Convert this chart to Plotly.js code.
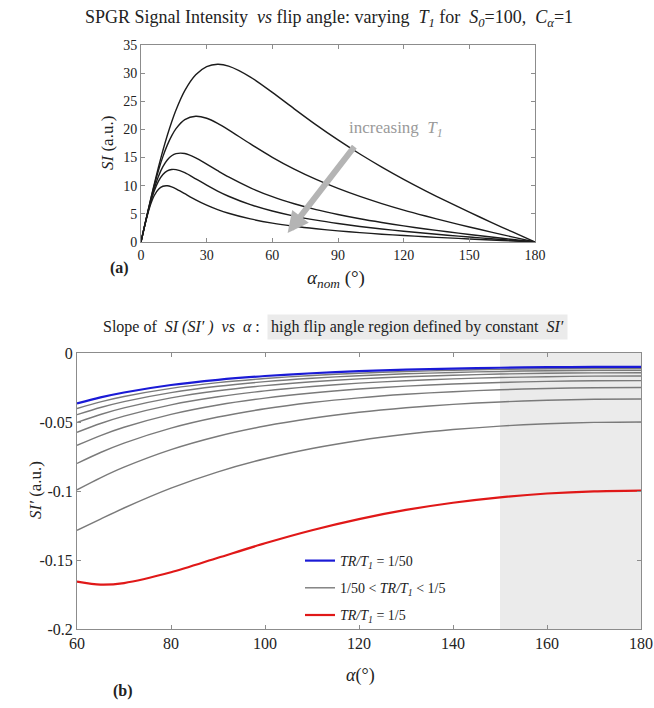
<!DOCTYPE html>
<html>
<head>
<meta charset="utf-8">
<script src="https://cdn.plot.ly/plotly-3.0.1.min.js"></script>
<style>html,body{margin:0;padding:0;background:#fff;}#chart{width:654px;height:708px;}</style>
</head>
<body>
<div id="chart"></div>
<script>
// ---- Panel (a): SPGR signal intensity vs nominal flip angle ----
var angleTop = [0,2,4,6,8,10,12,14,16,20,25,30,35,40,50,60,70,80,90,100,110,120,130,140,150,160,170,180];
var si_TR5  = [0,3.48,6.90,10.20,13.33,16.25,18.92,21.33,23.46,26.88,29.70,31.15,31.57,31.25,29.31,26.58,23.66,20.81,18.13,15.63,13.31,11.14,9.10,7.16,5.30,3.50,1.74,0];
var si_TR10 = [0,3.47,6.82,9.94,12.74,15.17,17.21,18.86,20.14,21.74,22.35,21.99,21.09,19.93,17.42,15.05,12.95,11.12,9.52,8.10,6.83,5.67,4.61,3.61,2.67,1.76,0.87,0];
var si_TR20 = [0,3.45,6.66,9.44,11.70,13.40,14.58,15.32,15.70,15.72,14.95,13.84,12.67,11.55,9.62,8.05,6.79,5.75,4.88,4.12,3.46,2.86,2.32,1.81,1.34,0.88,0.44,0];
var si_TR30 = [0,3.43,6.51,9.00,10.81,11.99,12.64,12.89,12.86,12.31,11.23,10.10,9.05,8.13,6.64,5.50,4.60,3.88,3.28,2.76,2.31,1.91,1.55,1.21,0.89,0.59,0.29,0];
var si_TR50 = [0,3.39,6.22,8.22,9.39,9.91,9.99,9.79,9.45,8.58,7.50,6.55,5.76,5.11,4.10,3.36,2.80,2.35,1.98,1.67,1.39,1.15,0.93,0.73,0.54,0.35,0.18,0];
var topTickVals = [0,30,60,90,120,150,180];
var topYTicks = [0,5,10,15,20,25,30,35];

// ---- Panel (b): slope SI' vs flip angle ----
var angleBot = [60,65,70,80,90,100,110,120,130,140,150,160,170,180];
var d_TR50 = [-0.03657,-0.03218,-0.02860,-0.02319,-0.01941,-0.01668,-0.01469,-0.01320,-0.01210,-0.01128,-0.01069,-0.01030,-0.01007,-0.01000];
var d_TR45 = [-0.04024,-0.03546,-0.03156,-0.02565,-0.02149,-0.01850,-0.01629,-0.01465,-0.01343,-0.01253,-0.01188,-0.01144,-0.01119,-0.01111];
var d_TR40 = [-0.04471,-0.03949,-0.03521,-0.02869,-0.02408,-0.02075,-0.01829,-0.01646,-0.01509,-0.01409,-0.01336,-0.01287,-0.01259,-0.01250];
var d_TR35 = [-0.05029,-0.04455,-0.03980,-0.03254,-0.02737,-0.02362,-0.02085,-0.01878,-0.01723,-0.01609,-0.01526,-0.01471,-0.01439,-0.01429];
var d_TR30 = [-0.05744,-0.05108,-0.04577,-0.03755,-0.03171,-0.02742,-0.02424,-0.02185,-0.02007,-0.01875,-0.01780,-0.01716,-0.01679,-0.01667];
var d_TR25 = [-0.06692,-0.05982,-0.05383,-0.04446,-0.03767,-0.03267,-0.02894,-0.02614,-0.02403,-0.02247,-0.02134,-0.02058,-0.02014,-0.02000];
var d_TR20 = [-0.08003,-0.07210,-0.06528,-0.05442,-0.04639,-0.04041,-0.03591,-0.03251,-0.02994,-0.02803,-0.02665,-0.02571,-0.02517,-0.02500];
var d_TR15 = [-0.09915,-0.09048,-0.08277,-0.07004,-0.06033,-0.05294,-0.04729,-0.04297,-0.03970,-0.03724,-0.03546,-0.03425,-0.03355,-0.03332];
var d_TR10 = [-0.12849,-0.12031,-0.11232,-0.09794,-0.08611,-0.07665,-0.06920,-0.06337,-0.05888,-0.05547,-0.05297,-0.05127,-0.05028,-0.04996];
var d_TR5  = [-0.16562,-0.16788,-0.16670,-0.15891,-0.14841,-0.13789,-0.12842,-0.12035,-0.11373,-0.10850,-0.10456,-0.10182,-0.10020,-0.09967];
var botXTicks = [60,80,100,120,140,160,180];
var botYTickVals = [0,-0.05,-0.1,-0.15,-0.2];
var botYTickText = ['0','-0.05','-0.1','-0.15','-0.2'];
var highFlipRegion = [150,180];

var SERIF = 'Liberation Serif, Times New Roman, serif';
var W = 654, H = 708;
function px(x){return x/W;}
function py(y){return 1 - y/H;}

var traces = [];
[si_TR5, si_TR10, si_TR20, si_TR30, si_TR50].forEach(function(s){
  traces.push({x: angleTop, y: s, xaxis:'x', yaxis:'y', type:'scatter', mode:'lines',
    line:{color:'#1c1c1c', width:1.4, shape:'spline', smoothing:0.8}, showlegend:false, hoverinfo:'skip'});
});
var grays = [d_TR45, d_TR40, d_TR35, d_TR30, d_TR25, d_TR20, d_TR15, d_TR10];
grays.forEach(function(s, i){
  traces.push({x: angleBot, y: s, xaxis:'x2', yaxis:'y2', type:'scatter', mode:'lines',
    line:{color:'#7a7a7a', width:1.4, shape:'spline', smoothing:0.8},
    name:'1/50 &lt; <i>TR/T<sub>1</sub></i> &lt; 1/5', legendgroup:'g', showlegend: i===0, legendrank:2, hoverinfo:'skip'});
});
traces.push({x: angleBot, y: d_TR50, xaxis:'x2', yaxis:'y2', type:'scatter', mode:'lines',
  line:{color:'#1a1ad6', width:2.2, shape:'spline', smoothing:0.8}, legendgroup:'b',
  name:'<i>TR/T<sub>1</sub></i> = 1/50', legendrank:1, hoverinfo:'skip'});
traces.push({x: angleBot, y: d_TR5, xaxis:'x2', yaxis:'y2', type:'scatter', mode:'lines',
  line:{color:'#e01818', width:2.2, shape:'spline', smoothing:0.8}, legendgroup:'r',
  name:'<i>TR/T<sub>1</sub></i> = 1/5', legendrank:3, hoverinfo:'skip'});

var axBase = {showline:true, mirror:'ticks', linecolor:'#8c8c8c', linewidth:1, ticks:'inside', ticklen:4,
  tickcolor:'#8c8c8c', showgrid:false, zeroline:false, fixedrange:true,
  tickfont:{family:SERIF, size:14, color:'#222'}};
function ax(extra){var o=JSON.parse(JSON.stringify(axBase)); for(var k in extra){o[k]=extra[k];} return o;}

var layout = {
  width:W, height:H, margin:{l:0,r:0,t:0,b:0}, autosize:false,
  paper_bgcolor:'#fff', plot_bgcolor:'rgba(0,0,0,0)',
  font:{family:SERIF, color:'#222'},
  xaxis: ax({domain:[px(141), px(535)], range:[0,180], tickvals:topTickVals, anchor:'y'}),
  yaxis: ax({domain:[py(242), py(45)], range:[0,35], tickvals:topYTicks, anchor:'x'}),
  xaxis2: ax({domain:[px(77), px(641)], range:[60,180], tickvals:botXTicks, anchor:'y2',
    tickfont:{family:SERIF, size:16, color:'#222'}}),
  yaxis2: ax({domain:[py(629), py(353)], range:[-0.2,0], tickvals:botYTickVals, ticktext:botYTickText, anchor:'x2',
    tickfont:{family:SERIF, size:16, color:'#222'}}),
  shapes:[{type:'rect', xref:'x2', yref:'y2', x0:highFlipRegion[0], x1:highFlipRegion[1], y0:-0.2, y1:0,
    fillcolor:'#ebebeb', line:{width:0}, layer:'below'}],
  legend:{x:px(300), y:py(545), xanchor:'left', yanchor:'top', bgcolor:'rgba(255,255,255,0)',
    font:{family:SERIF, size:14, color:'#222'}, tracegroupgap:6},
  annotations:[
    {xref:'paper', yref:'paper', x:px(329), y:py(18), xanchor:'center', yanchor:'middle', showarrow:false,
     text:'SPGR Signal Intensity&nbsp; <i>vs</i> flip angle: varying&nbsp; <i>T<sub>1</sub></i> for&nbsp; <i>S<sub>0</sub></i>=100,&nbsp; <i>C<sub>α</sub></i>=1',
     font:{family:SERIF, size:18, color:'#222'}},
    {xref:'paper', yref:'paper', x:px(107), y:py(143), xanchor:'center', yanchor:'middle', showarrow:false, textangle:-90,
     text:'<i>SI</i> (a.u.)', font:{family:SERIF, size:17, color:'#222'}},
    {xref:'paper', yref:'paper', x:px(336), y:py(279), xanchor:'center', yanchor:'middle', showarrow:false,
     text:'<i>α<sub>nom</sub></i> (°)', font:{family:SERIF, size:19, color:'#222'}},
    {xref:'paper', yref:'paper', x:px(119), y:py(268), xanchor:'center', yanchor:'middle', showarrow:false,
     text:'<b>(a)</b>', font:{family:SERIF, size:16, color:'#222'}},
    {xref:'x', yref:'y', x:67, y:1.6, ax:98, ay:17.2, axref:'x', ayref:'y', showarrow:true, text:'',
     arrowhead:2, arrowsize:0.7, arrowwidth:6, arrowcolor:'#b4b4b4', standoff:0, startstandoff:0},
    {xref:'x', yref:'y', x:94, y:20, xanchor:'left', yanchor:'middle', showarrow:false,
     text:'increasing&nbsp; <i>T<sub>1</sub></i>', font:{family:SERIF, size:17, color:'#9a9a9a'}},
    {xref:'paper', yref:'paper', x:px(262), y:py(327), xanchor:'right', yanchor:'middle', showarrow:false,
     text:'Slope of&nbsp; <i>SI (SI′ )</i>&nbsp; <i>vs</i>&nbsp; <i>α</i> :', font:{family:SERIF, size:16, color:'#222'}},
    {xref:'paper', yref:'paper', x:px(267), y:py(327), xanchor:'left', yanchor:'middle', showarrow:false,
     text:'high flip angle region defined by constant&nbsp; <i>SI′</i>', bgcolor:'#ebebeb', borderpad:3,
     font:{family:SERIF, size:16, color:'#222'}},
    {xref:'paper', yref:'paper', x:px(35), y:py(490), xanchor:'center', yanchor:'middle', showarrow:false, textangle:-90,
     text:'<i>SI′</i> (a.u.)', font:{family:SERIF, size:17, color:'#222'}},
    {xref:'paper', yref:'paper', x:px(360), y:py(675), xanchor:'center', yanchor:'middle', showarrow:false,
     text:'<i>α</i>(°)', font:{family:SERIF, size:18, color:'#222'}},
    {xref:'paper', yref:'paper', x:px(123), y:py(691), xanchor:'center', yanchor:'middle', showarrow:false,
     text:'<b>(b)</b>', font:{family:SERIF, size:16, color:'#222'}}
  ]
};
Plotly.newPlot('chart', traces, layout, {staticPlot:true, displayModeBar:false});
</script>
</body>
</html>
